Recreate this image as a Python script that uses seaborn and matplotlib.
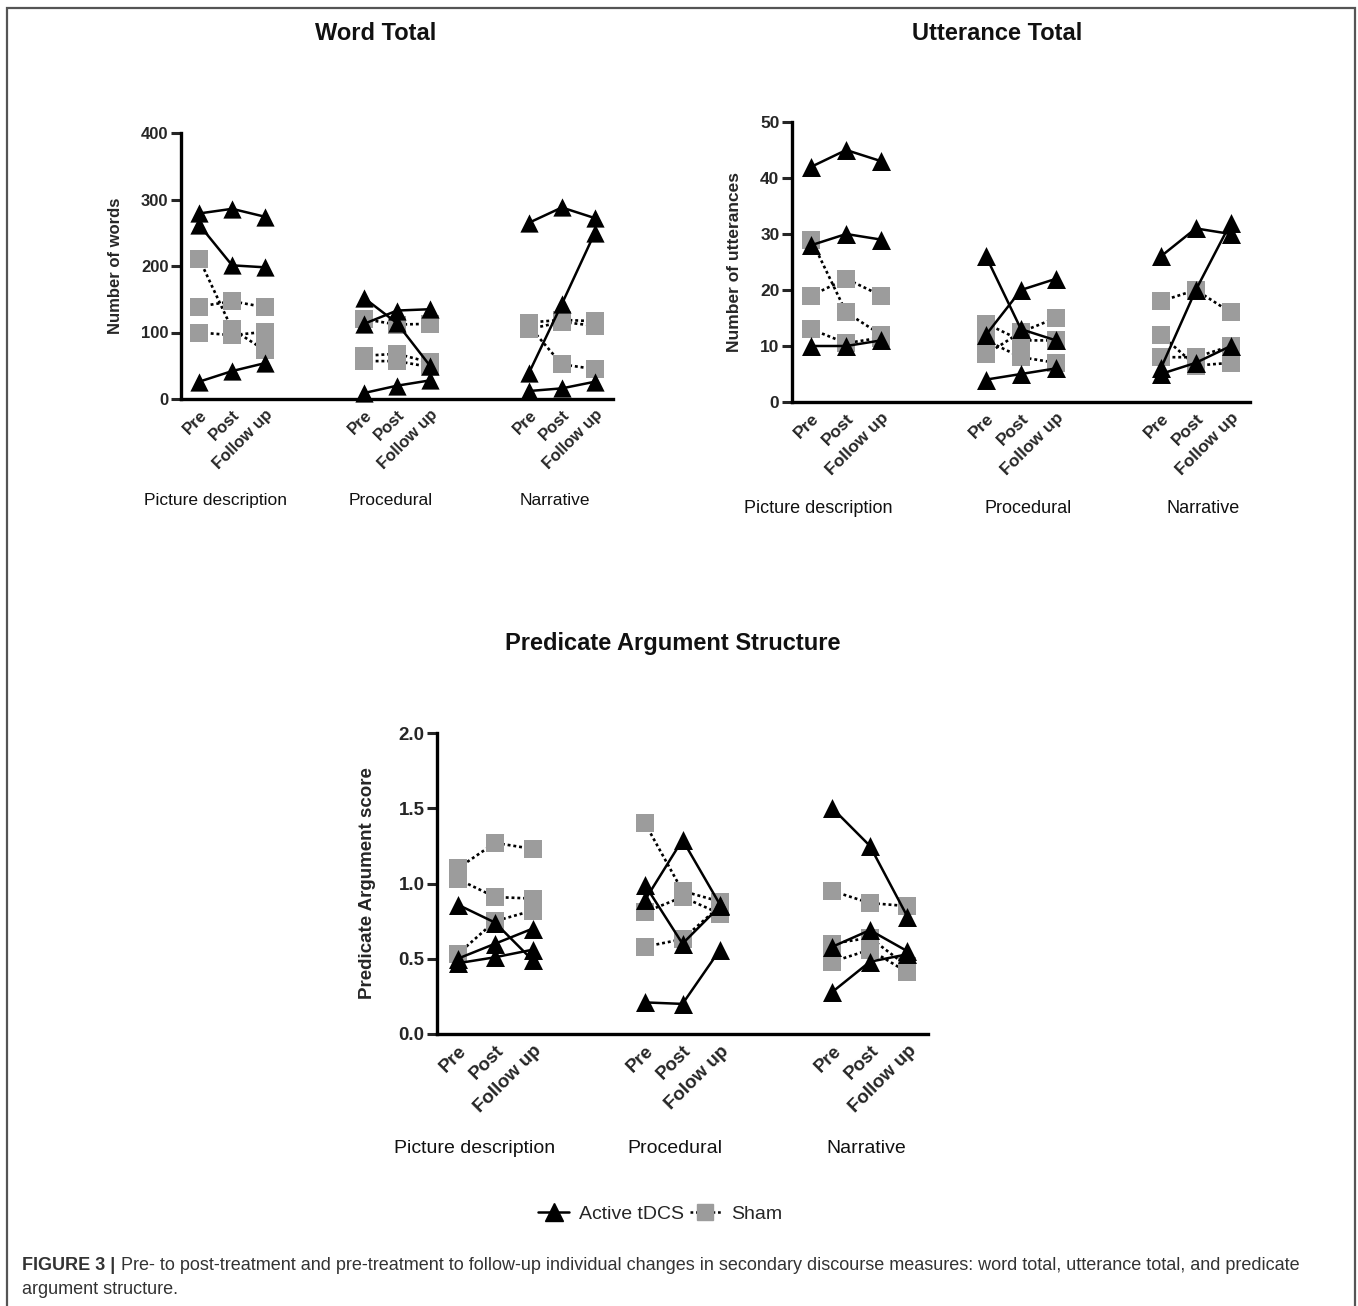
import pandas as pd
import matplotlib.pyplot as plt
import seaborn as sns
from matplotlib.lines import Line2D
from matplotlib.patches import Rectangle

# categories
tasks = ['Picture description', 'Procedural', 'Narrative']
times = ['Pre', 'Post', 'Follow up']
times_pas = ['Pre', 'Post', 'Follow up', 'Pre', 'Post', 'Folow up', 'Pre', 'Post', 'Follow up']

# word total (one row per participant: pre, post, follow up)
word_active_pic = [[279, 286, 274], [262, 201, 198], [26, 42, 54]]
word_active_proc = [[152, 114, 50], [113, 133, 135], [9, 20, 28]]
word_active_narr = [[265, 288, 272], [39, 143, 250], [12, 16, 26]]
word_sham_pic = [[211, 105, 73], [139, 147, 138], [100, 96, 101]]
word_sham_proc = [[120, 112, 113], [65, 68, 55], [57, 57, 48]]
word_sham_narr = [[115, 119, 117], [105, 116, 110], [110, 52, 45]]

# utterance total
utt_active_pic = [[42, 45, 43], [28, 30, 29], [10, 10, 11]]
utt_active_proc = [[26, 13, 11], [12, 20, 22], [4, 5, 6]]
utt_active_narr = [[26, 31, 30], [6, 20, 32], [5, 7, 10]]
utt_sham_pic = [[29, 16, 12], [19, 22, 19], [13, 10.5, 11.5]]
utt_sham_proc = [[14, 11, 11], [8.5, 12.5, 15], [11, 8, 7]]
utt_sham_narr = [[18, 20, 16], [12, 6.5, 7], [8, 8, 10]]

# predicate argument structure
pas_active_pic = [[0.86, 0.74, 0.49], [0.50, 0.60, 0.70], [0.47, 0.51, 0.56]]
pas_active_proc = [[0.99, 0.60, 0.85], [0.89, 1.29, 0.86], [0.21, 0.20, 0.56]]
pas_active_narr = [[1.50, 1.25, 0.78], [0.58, 0.69, 0.55], [0.28, 0.48, 0.53]]
pas_sham_pic = [[1.10, 1.27, 1.23], [1.03, 0.91, 0.90], [0.53, 0.75, 0.82]]
pas_sham_proc = [[1.40, 0.95, 0.88], [0.81, 0.91, 0.80], [0.58, 0.63, 0.85]]
pas_sham_narr = [[0.95, 0.87, 0.85], [0.60, 0.64, 0.45], [0.48, 0.56, 0.41]]


def to_long(active, sham):
    rows = []
    for group, blocks in [('Active tDCS', active), ('Sham', sham)]:
        for t, block in enumerate(blocks):
            for s, vals in enumerate(block):
                for k, v in enumerate(vals):
                    rows.append({'group': group, 'unit': f'{group}-{t}-{s}',
                                 'x': t * 5 + k, 'value': v})
    return pd.DataFrame(rows)


sns.set_theme(style='ticks')
plt.rcParams['font.family'] = ['Liberation Sans', 'DejaVu Sans']

fig = plt.figure(figsize=(13.58, 13.06), dpi=100)
W, H = 1358, 1306

panels = [
    dict(df=to_long([word_active_pic, word_active_proc, word_active_narr],
                    [word_sham_pic, word_sham_proc, word_sham_narr]),
         box=(181, 133, 613, 399), ylim=400, yticks=[0, 100, 200, 300, 400], fmt='{:.0f}',
         ylabel='Number of words', title='Word Total', title_x=376, title_y=34,
         xlab=times * 3, fs=12, ms=12.5, glab_x=[0.5, 5.8, 10.8], ylab_x=-0.135),
    dict(df=to_long([utt_active_pic, utt_active_proc, utt_active_narr],
                    [utt_sham_pic, utt_sham_proc, utt_sham_narr]),
         box=(792, 122, 1250, 402), ylim=50, yticks=[0, 10, 20, 30, 40, 50], fmt='{:.0f}',
         ylabel='Number of utterances', title='Utterance Total', title_x=997, title_y=34,
         xlab=times * 3, fs=12.5, ms=13, glab_x=[0.2, 6.2, 11.2], ylab_x=-0.11),
    dict(df=to_long([pas_active_pic, pas_active_proc, pas_active_narr],
                    [pas_sham_pic, pas_sham_proc, pas_sham_narr]),
         box=(437, 733, 928, 1034), ylim=2.0, yticks=[0, 0.5, 1.0, 1.5, 2.0], fmt='{:.1f}',
         ylabel='Predicate Argument score', title='Predicate Argument Structure',
         title_x=673, title_y=643,
         xlab=times_pas, fs=13.5, ms=13, glab_x=[0.45, 5.8, 10.9], ylab_x=-0.125),
]

gray = '#9c9c9c'

for p in panels:
    x0, y0, x1, y1 = p['box']
    ax = fig.add_axes([x0 / W, 1 - y1 / H, (x1 - x0) / W, (y1 - y0) / H])
    df = p['df']
    sham = df[df['group'] == 'Sham']
    act = df[df['group'] == 'Active tDCS']

    sns.lineplot(data=sham, x='x', y='value', units='unit', estimator=None,
                 color='black', linestyle=(0, (1.1, 1.1)), linewidth=1.9, ax=ax, zorder=2)
    sns.scatterplot(data=sham, x='x', y='value', marker='s', color=gray,
                    edgecolor=gray, s=p['ms'] ** 2, linewidth=0, ax=ax, zorder=3,
                    clip_on=False)
    sns.lineplot(data=act, x='x', y='value', units='unit', estimator=None,
                 color='black', linewidth=1.8, ax=ax, zorder=4)
    sns.scatterplot(data=act, x='x', y='value', marker='^', color='black',
                    edgecolor='black', s=(p['ms'] * 1.05) ** 2, linewidth=0, ax=ax,
                    zorder=5, clip_on=False)

    ax.set_xlim(-0.55, 12.55)
    ax.set_ylim(0, p['ylim'])
    ax.set_yticks(p['yticks'])
    ax.set_yticklabels([p['fmt'].format(v) for v in p['yticks']],
                       fontweight='bold', fontsize=p['fs'])
    xs = [t * 5 + k for t in range(3) for k in range(3)]
    ax.set_xticks(xs)
    ax.set_xticklabels(p['xlab'], rotation=45, ha='right', rotation_mode='anchor',
                       fontweight='bold', fontsize=p['fs'])
    ax.tick_params(axis='x', length=0, pad=6)
    ax.tick_params(axis='y', length=7, width=2.2, pad=2)
    for side in ['top', 'right']:
        ax.spines[side].set_visible(False)
    for side in ['left', 'bottom']:
        ax.spines[side].set_linewidth(2.4)
        ax.spines[side].set_color('black')
    ax.set_xlabel('')
    ax.set_ylabel(p['ylabel'], fontweight='bold', fontsize=p['fs'])
    ax.yaxis.set_label_coords(p['ylab_x'], 0.5)

    for gx, name in zip(p['glab_x'], tasks):
        ax.text(gx, -0.38, name, transform=ax.get_xaxis_transform(),
                ha='center', va='center', fontsize=p['fs'] + 0.5, color='#111111')

    fig.text(p['title_x'] / W, 1 - p['title_y'] / H, p['title'], ha='center',
             va='center', fontweight='bold', fontsize=17, color='#111111')

# legend
handles = [
    Line2D([], [], color='black', lw=1.8, marker='^', markersize=13, label='Active tDCS'),
    Line2D([], [], color='black', lw=1.8, ls=(0, (1.1, 1.1)), marker='s', markersize=12,
           markerfacecolor=gray, markeredgecolor=gray, label='Sham'),
]
fig.legend(handles=handles, loc='center', bbox_to_anchor=(660 / W, 1 - 1214 / H),
           ncol=2, frameon=False, fontsize=14, handlelength=1.6, handletextpad=0.5,
           columnspacing=0.3)

# caption
fig.text(22 / W, 1 - 1266 / H, 'FIGURE 3 |', fontweight='bold', fontsize=13,
         color='#333333', va='center')
fig.text(121 / W, 1 - 1266 / H,
         'Pre- to post-treatment and pre-treatment to follow-up individual changes in '
         'secondary discourse measures: word total, utterance total, and predicate',
         fontsize=13, color='#333333', va='center')
fig.text(22 / W, 1 - 1290 / H, 'argument structure.', fontsize=13, color='#333333',
         va='center')

# frame
fig.add_artist(Rectangle((7 / W, -0.01), 1348 / W, 1 - 8 / H + 0.01,
                         transform=fig.transFigure, fill=False, edgecolor='#555555',
                         linewidth=1.6))

plt.savefig('out.png', dpi=100)
plt.close()
